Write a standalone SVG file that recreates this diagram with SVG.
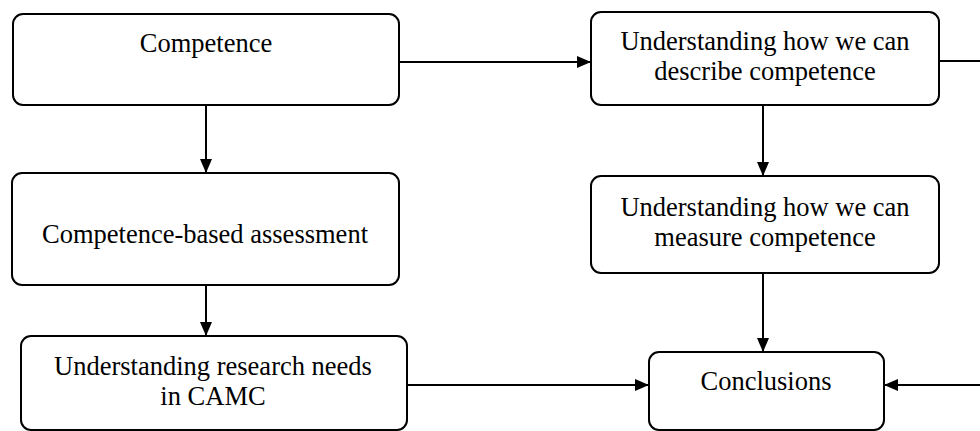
<svg xmlns="http://www.w3.org/2000/svg" width="980" height="431" viewBox="0 0 980 431">
  <style>
    .box { fill: #ffffff; stroke: #000000; stroke-width: 2; }
    .lbl { font-family: "Liberation Serif", "Times New Roman", serif; font-size: 26.5px; fill: #000000; text-anchor: middle; }
    .wire { fill: none; stroke: #000000; stroke-width: 2; }
  </style>
  <defs>
    <marker id="arrow" viewBox="0 0 14 12" refX="14" refY="6" markerWidth="14" markerHeight="12" markerUnits="userSpaceOnUse" orient="auto">
      <path d="M0,0 L14,6 L0,12 Z" fill="#000000"/>
    </marker>
  </defs>
  <rect width="980" height="431" fill="#ffffff"/>

  <g id="connectors">
    <line class="wire" x1="206" y1="105" x2="206" y2="173" marker-end="url(#arrow)"/>
    <line class="wire" x1="206" y1="285" x2="206" y2="336" marker-end="url(#arrow)"/>
    <line class="wire" x1="399" y1="62" x2="591" y2="62" marker-end="url(#arrow)"/>
    <line class="wire" x1="763" y1="105" x2="763" y2="176" marker-end="url(#arrow)"/>
    <line class="wire" x1="763" y1="273" x2="763" y2="352" marker-end="url(#arrow)"/>
    <line class="wire" x1="407" y1="385" x2="649" y2="385" marker-end="url(#arrow)"/>
    <!-- feedback loop from "describe" round the right-hand side into Conclusions -->
    <path class="wire" d="M939,61 H1000 V385 H884" marker-end="url(#arrow)"/>
  </g>

  <g id="competence">
    <rect class="box" x="13" y="14" width="386" height="91" rx="10"/>
    <text class="lbl" x="206" y="52">Competence</text>
  </g>

  <g id="assessment">
    <rect class="box" x="12" y="173" width="387" height="112" rx="10"/>
    <text class="lbl" x="205" y="243">Competence-based assessment</text>
  </g>

  <g id="research-needs">
    <rect class="box" x="21" y="336" width="386" height="94" rx="10"/>
    <text class="lbl" x="213" y="375">Understanding research needs</text>
    <text class="lbl" x="213" y="405">in CAMC</text>
  </g>

  <g id="describe">
    <rect class="box" x="591" y="12" width="348" height="93" rx="10"/>
    <text class="lbl" x="765" y="50">Understanding how we can</text>
    <text class="lbl" x="765" y="80">describe competence</text>
  </g>

  <g id="measure">
    <rect class="box" x="591" y="176" width="348" height="97" rx="10"/>
    <text class="lbl" x="765" y="216">Understanding how we can</text>
    <text class="lbl" x="765" y="246">measure competence</text>
  </g>

  <g id="conclusions">
    <rect class="box" x="649" y="352" width="235" height="78" rx="10"/>
    <text class="lbl" x="766" y="390">Conclusions</text>
  </g>
</svg>
